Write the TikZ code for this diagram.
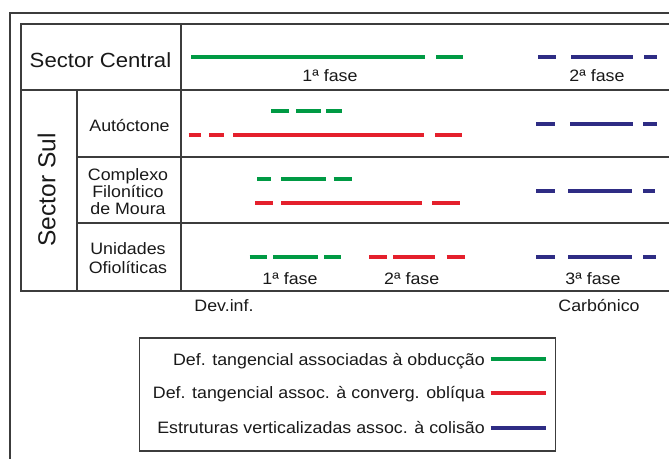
\documentclass[tikz,border=0pt]{standalone}
\usepackage{fontspec}
\setmainfont{Liberation Sans}[FakeStretch=1.08]
\newfontfamily\sulfont{Liberation Sans}
\usepackage{xcolor}
\definecolor{obdgreen}{HTML}{009A44}
\definecolor{oblred}{HTML}{E4202C}
\definecolor{colblue}{HTML}{2E2C84}
\definecolor{frame}{HTML}{3C3C3C}
\tikzset{
  grid/.style  = {line width=1.8pt, draw=frame},
  obd/.style   = {line width=3.7pt, draw=obdgreen},
  obl/.style   = {line width=3.7pt, draw=oblred},
  col/.style   = {line width=3.7pt, draw=colblue},
  lab/.style   = {inner sep=0pt, text=black!90, font=\fontsize{16.5}{17}\selectfont},
  biglab/.style= {inner sep=0pt, text=black!90, font=\fontsize{20.5}{22}\selectfont}
}

\begin{document}
\begin{tikzpicture}[x=1pt, y=-1pt]
  \useasboundingbox (0,0) rectangle (669,458);
  % frame and table
  \draw[grid] (672,12.7) -| (10,462);
  \draw[grid] (672,24) -| (21,291) -- (672,291);
  \draw[grid] (21,90) -- (672,90);
  \draw[grid] (77,157) -- (672,157);
  \draw[grid] (77,223) -- (672,223);
  \draw[grid] (77,90) -- (77,291);
  \draw[grid] (181,24) -- (181,291);

  % row labels
  \node[biglab, anchor=base] (central) at (100.5,67) {Sector Central};
  \node[inner sep=0pt, text=black!90, font=\sulfont\fontsize{24.5}{26}\selectfont,
        rotate=90] (sul) at (46.7,190) {Sector Sul};
  \node[lab, anchor=base] (autoc) at (129.5,131.5) {Autóctone};
  \node[lab, align=center, font=\fontsize{16.5}{16.7}\selectfont] (filon) at (128,191.5)
    {Complexo\\Filonítico\\de Moura};
  \node[lab, align=center, font=\fontsize{16.5}{19.7}\selectfont] (ofiol) at (128,258.2)
    {Unidades\\Ofiolíticas};

  % Sector Central
  \foreach \a/\b in {191/424.5, 436/463} \draw[obd] (\a,57) -- (\b,57);
  \foreach \a/\b in {538/555.5, 571/633, 644/657} \draw[col] (\a,57) -- (\b,57);
  \node[lab, anchor=base] (f1c) at (330,81.5) {1ª fase};
  \node[lab, anchor=base] (f2c) at (597,81.5) {2ª fase};

  % Autoctone
  \foreach \a/\b in {271/289, 296/321, 326/342} \draw[obd] (\a,110.7) -- (\b,110.7);
  \foreach \a/\b in {188.6/200.5, 209/224, 233/423.6, 435/462} \draw[obl] (\a,135) -- (\b,135);
  \foreach \a/\b in {536/554.6, 570/633, 643/657} \draw[col] (\a,124) -- (\b,124);

  % Complexo Filonitico
  \foreach \a/\b in {257/271, 281/326, 333.6/352} \draw[obd] (\a,179) -- (\b,179);
  \foreach \a/\b in {255/273, 281/421.5, 432/459.5} \draw[obl] (\a,203.3) -- (\b,203.3);
  \foreach \a/\b in {536/554.6, 568/632, 643/655} \draw[col] (\a,191) -- (\b,191);

  % Unidades Ofioliticas
  \foreach \a/\b in {249.6/266.6, 273/318, 324/341} \draw[obd] (\a,257.3) -- (\b,257.3);
  \foreach \a/\b in {369/387, 393/435, 446.7/465} \draw[obl] (\a,257.3) -- (\b,257.3);
  \foreach \a/\b in {536/555, 568/632, 643/656} \draw[col] (\a,257.3) -- (\b,257.3);
  \node[lab, anchor=base] (f1o) at (290,284.3) {1ª fase};
  \node[lab, anchor=base] (f2o) at (411.7,284.3) {2ª fase};
  \node[lab, anchor=base] (f3o) at (593,284.3) {3ª fase};

  % time axis
  \node[lab, anchor=base] (devinf) at (224,311.7) {Dev.inf.};
  \node[lab, anchor=base] (carb) at (599,311.7) {Carbónico};

  % legend
  \draw[grid] (139.5,338) rectangle (555.5,451);
  \node[lab, anchor=base east] (legobd) at (485,365) {Def. tangencial associadas à obducção};
  \node[lab, anchor=base east] (legobl) at (485,398.7) {Def. tangencial assoc. à converg. oblíqua};
  \node[lab, anchor=base east] (legcol) at (485,433.7) {Estruturas verticalizadas assoc. à colisão};
  \draw[obd] (490.5,359) -- (545.5,359);
  \draw[obl] (490.5,392.7) -- (545.5,392.7);
  \draw[col] (490.5,427.7) -- (545.5,427.7);
\end{tikzpicture}
\end{document}
